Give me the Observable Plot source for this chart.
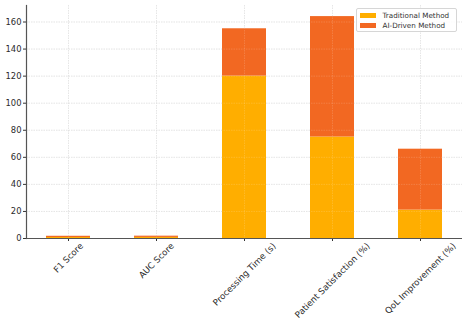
<!DOCTYPE html>
<html><head><meta charset="utf-8">
<script src="https://cdn.jsdelivr.net/npm/d3@7"></script>
<script src="https://cdn.jsdelivr.net/npm/@observablehq/plot@0.6"></script>
<style>
body{margin:0;background:#fff;}
#wrap{position:relative;width:466px;height:321px;font-family:"DejaVu Sans",sans-serif;}
#legend{position:absolute;left:356px;top:8px;width:101px;height:24px;box-sizing:border-box;border:1px solid #d6d6d6;border-radius:2px;background:rgba(255,255,255,0.85);font-size:7.2px;color:#333;}
#legend .row{position:absolute;left:3px;height:8px;display:flex;align-items:center;}
#legend .sw{width:15.5px;height:5px;margin-right:7px;}
</style></head>
<body><div id="wrap"><div id="legend"></div></div>
<script>
const categories = ["F1 Score", "AUC Score", "Processing Time (s)", "Patient Satisfaction (%)", "QoL Improvement (%)"];
const traditional = [0.75, 0.80, 120, 75, 21];
const aiDriven = [0.89, 0.92, 35, 89, 45];
const seriesNames = ["Traditional Method", "AI-Driven Method"];
const seriesColors = ["#ffae00", "#f26822"];
const yTicks = [0, 20, 40, 60, 80, 100, 120, 140, 160];

const rows = [];
categories.forEach((c, i) => {
  rows.push({cat: c, series: seriesNames[0], value: traditional[i]});
  rows.push({cat: c, series: seriesNames[1], value: aiDriven[i]});
});
const yMax = d3.max(categories.map((c, i) => traditional[i] + aiDriven[i])) * 1.05;

const labelSize = 8.7;
const ctx = document.createElement("canvas").getContext("2d");
ctx.font = labelSize + "px 'DejaVu Sans'";
const labelTop = 3;
const labelMarks = categories.map(c => {
  const off = labelTop + (ctx.measureText(c).width + labelSize) * Math.SQRT1_2 / 2;
  return Plot.text([c], {x: d => d, frameAnchor: "bottom", dy: off, text: d => d, rotate: -45, textAnchor: "middle", lineAnchor: "middle", fill: "#2b2b2b", fontSize: labelSize});
});

const gridOpts = {stroke: "#cfcfcf", strokeOpacity: 1, strokeWidth: 0.6, strokeDasharray: "1.5,1"};
const gridTop = {stroke: "#ffffff", strokeOpacity: 0.25, strokeWidth: 0.6, strokeDasharray: "1.5,1"};

const chart = Plot.plot({
  width: 466,
  height: 321,
  marginLeft: 26,
  marginRight: 4,
  marginTop: 5,
  marginBottom: 83,
  style: {fontFamily: "DejaVu Sans", fontSize: "8.4px", color: "#2b2b2b", background: "#fff"},
  x: {domain: categories, paddingInner: 0.5, paddingOuter: 0.225, label: null, axis: null},
  y: {domain: [0, yMax], ticks: yTicks, label: null, axis: null},
  color: {domain: seriesNames, range: seriesColors},
  marks: [
    Plot.gridY(yTicks, gridOpts),
    Plot.gridX(categories, gridOpts),
    Plot.barY(rows, Plot.stackY({x: "cat", y: "value", fill: "series", order: seriesNames})),
    Plot.gridY(yTicks, gridTop),
    Plot.gridX(categories, gridTop),
    Plot.axisY(yTicks, {tickSize: 3, tickPadding: 2, stroke: "#333", fill: "#2b2b2b", label: null}),
    Plot.axisX(categories, {tickSize: 3, tickFormat: () => "", stroke: "#333", label: null}),
    ...labelMarks,
    Plot.ruleY([0], {stroke: "#555", strokeWidth: 1.2}),
    Plot.frame({anchor: "left", stroke: "#555", strokeWidth: 1.2})
  ]
});
document.getElementById("wrap").prepend(chart);

const legend = document.getElementById("legend");
seriesNames.forEach((s, i) => {
  const r = document.createElement("div");
  r.className = "row";
  r.style.top = (2 + i * 10.3) + "px";
  r.innerHTML = `<span class="sw" style="background:${seriesColors[i]}"></span><span>${s}</span>`;
  legend.appendChild(r);
});
</script></body></html>
